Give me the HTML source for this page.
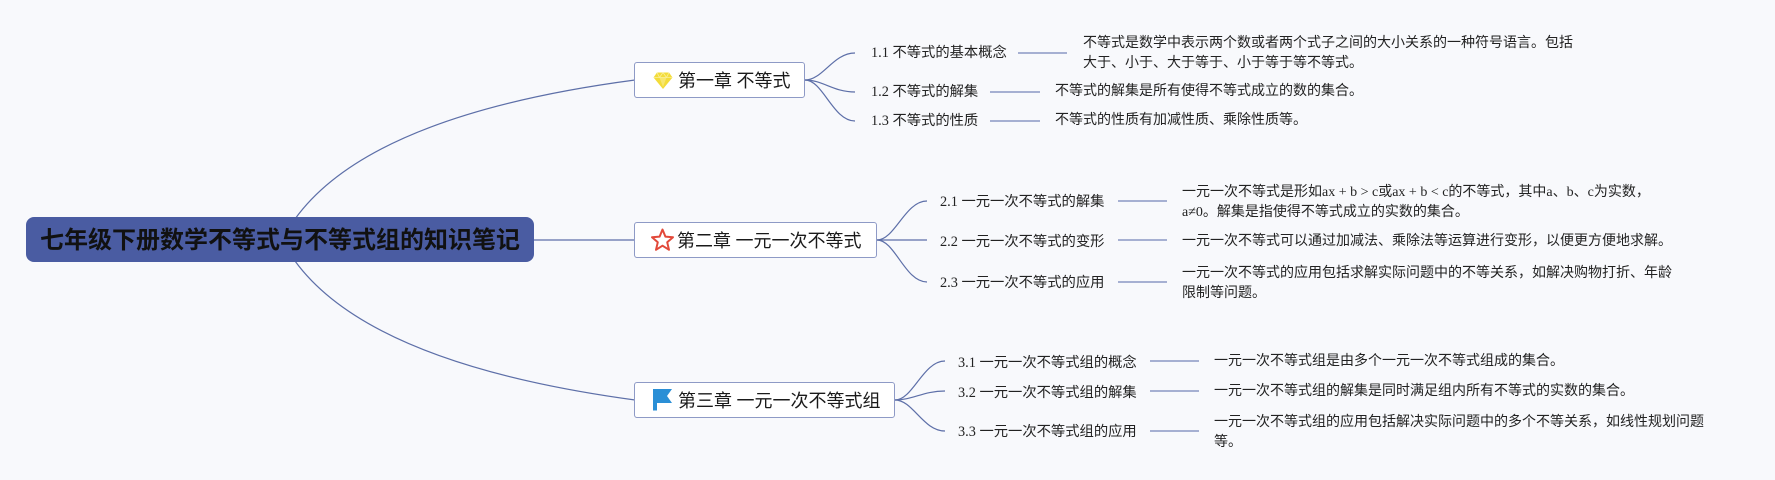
<!DOCTYPE html>
<html>
<head>
<meta charset="utf-8">
<style>
  html,body{margin:0;padding:0;}
  body{width:1775px;height:480px;background:#f8f9fc;position:relative;overflow:hidden;
       font-family:"Liberation Serif","Noto Sans CJK SC",sans-serif;color:#1e1e1e;}
  .abs{position:absolute;white-space:nowrap;}
  .root{position:absolute;left:26px;top:217px;width:508px;height:45px;background:#4a5ca2;border-radius:8px;
        font-family:"Liberation Sans","Noto Sans CJK SC",sans-serif;font-weight:bold;font-size:24px;
        line-height:47px;text-align:center;color:#111;}
  .chap{position:absolute;left:634px;height:36px;box-sizing:border-box;background:#fff;
        border:1.5px solid #8e9ac6;border-radius:3px;}
  .ctext{position:absolute;font-size:18px;line-height:38px;white-space:nowrap;color:#1a1a1a;}
  .title{position:absolute;font-size:14.3px;line-height:20px;white-space:nowrap;color:#222;}
  .desc{position:absolute;font-size:14px;line-height:20px;white-space:nowrap;color:#222;}
</style>
</head>
<body>
<svg class="abs" style="left:0;top:0" width="1775" height="480" viewBox="0 0 1775 480">
  <g fill="none" stroke="#5d6fa8" stroke-width="1.2">
    <path d="M295 219 Q370 115 635 80"/>
    <path d="M534 240 L634 240"/>
    <path d="M295 261 Q370 364 635 400"/>
    <path d="M805 80 C823 80 833 53 855 53"/>
    <path d="M805 80 C823 80 833 92 855 92"/>
    <path d="M805 80 C823 80 833 121 855 121"/>
    <path d="M877 240 C895 240 905 201 927 201"/>
    <path d="M877 240 L927 240"/>
    <path d="M877 240 C895 240 905 282 927 282"/>
    <path d="M895 400 C913 400 923 361 945 361"/>
    <path d="M895 400 C913 400 923 391 945 391"/>
    <path d="M895 400 C913 400 923 431 945 431"/>
  </g>
  <g stroke="#9ba6cc" stroke-width="1.8">
    <line x1="1018" y1="53" x2="1067" y2="53"/>
    <line x1="990" y1="92" x2="1040" y2="92"/>
    <line x1="990" y1="121" x2="1040" y2="121"/>
    <line x1="1118" y1="201" x2="1167" y2="201"/>
    <line x1="1118" y1="240" x2="1167" y2="240"/>
    <line x1="1118" y1="282" x2="1167" y2="282"/>
    <line x1="1150" y1="361" x2="1199" y2="361"/>
    <line x1="1150" y1="391" x2="1199" y2="391"/>
    <line x1="1150" y1="431" x2="1199" y2="431"/>
  </g>
</svg>

<div class="root">七年级下册数学不等式与不等式组的知识笔记</div>

<div class="chap" style="top:62px;width:171px;"></div>
<div class="chap" style="top:222px;width:243px;"></div>
<div class="chap" style="top:382px;width:261px;"></div>

<svg class="abs" style="left:653px;top:72px" width="20" height="18" viewBox="0 0 20 18">
  <polygon points="4,0.5 16,0.5 19.5,5.5 10,17 0.5,5.5" fill="#f3dc3a"/>
  <polygon points="6.5,5.5 13.5,5.5 10,15" fill="#f7e670"/>
  <polyline points="0.5,5.5 19.5,5.5" stroke="#faef9c" stroke-width="0.8" fill="none"/>
  <polyline points="4,0.5 6.5,5.5 10,0.5 13.5,5.5 16,0.5" stroke="#faef9c" stroke-width="0.8" fill="none"/>
</svg>
<svg class="abs" style="left:650px;top:228px" width="25" height="24" viewBox="0 0 25 24">
  <polygon points="12.5,1.5 15.4,8.6 23,9.2 17.2,14.2 19,21.8 12.5,17.7 6,21.8 7.8,14.2 2,9.2 9.6,8.6"
           fill="none" stroke="#e2493a" stroke-width="2" stroke-linejoin="round"/>
</svg>
<svg class="abs" style="left:653px;top:389px" width="20" height="22" viewBox="0 0 20 22">
  <path d="M0 0 H19 L14 7 L19 14 H4 V21.5 H0 Z" fill="#2a8fd6"/>
</svg>

<div class="ctext" style="left:678px;top:62px;">第一章 不等式</div>
<div class="ctext" style="left:677px;top:222px;">第二章 一元一次不等式</div>
<div class="ctext" style="left:678px;top:382px;">第三章 一元一次不等式组</div>

<div class="title" style="left:871px;top:43px;">1.1 不等式的基本概念</div>
<div class="title" style="left:871px;top:82px;">1.2 不等式的解集</div>
<div class="title" style="left:871px;top:111px;">1.3 不等式的性质</div>
<div class="desc" style="left:1083px;top:34px;">不等式是数学中表示两个数或者两个式子之间的大小关系的一种符号语言。包括<br>大于、小于、大于等于、小于等于等不等式。</div>
<div class="desc" style="left:1055px;top:82px;">不等式的解集是所有使得不等式成立的数的集合。</div>
<div class="desc" style="left:1055px;top:111px;">不等式的性质有加减性质、乘除性质等。</div>

<div class="title" style="left:940px;top:192px;">2.1 一元一次不等式的解集</div>
<div class="title" style="left:940px;top:232px;">2.2 一元一次不等式的变形</div>
<div class="title" style="left:940px;top:273px;">2.3 一元一次不等式的应用</div>
<div class="desc" style="left:1182px;top:183px;">一元一次不等式是形如ax + b &gt; c或ax + b &lt; c的不等式，其中a、b、c为实数，<br>a≠0。解集是指使得不等式成立的实数的集合。</div>
<div class="desc" style="left:1182px;top:232px;">一元一次不等式可以通过加减法、乘除法等运算进行变形，以便更方便地求解。</div>
<div class="desc" style="left:1182px;top:264px;">一元一次不等式的应用包括求解实际问题中的不等关系，如解决购物打折、年龄<br>限制等问题。</div>

<div class="title" style="left:958px;top:353px;">3.1 一元一次不等式组的概念</div>
<div class="title" style="left:958px;top:383px;">3.2 一元一次不等式组的解集</div>
<div class="title" style="left:958px;top:422px;">3.3 一元一次不等式组的应用</div>
<div class="desc" style="left:1214px;top:352px;">一元一次不等式组是由多个一元一次不等式组成的集合。</div>
<div class="desc" style="left:1214px;top:382px;">一元一次不等式组的解集是同时满足组内所有不等式的实数的集合。</div>
<div class="desc" style="left:1214px;top:413px;">一元一次不等式组的应用包括解决实际问题中的多个不等关系，如线性规划问题<br>等。</div>
</body>
</html>
